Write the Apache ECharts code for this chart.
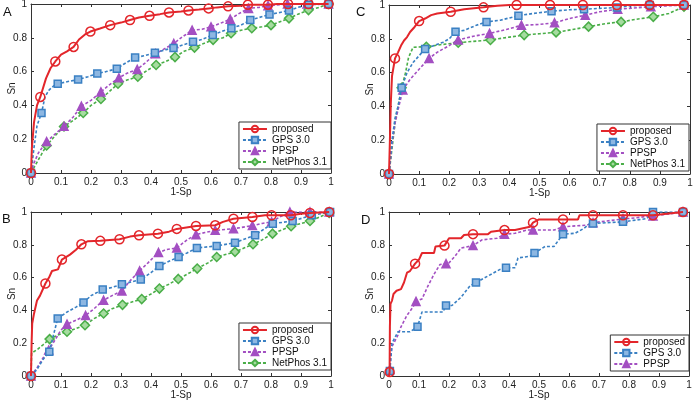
<!DOCTYPE html>
<html><head><meta charset="utf-8">
<script src="https://cdn.jsdelivr.net/npm/echarts@6/dist/echarts.min.js"></script>
<style>html,body{margin:0;padding:0;background:#fff}#c{width:693px;height:400px}</style>
</head><body><div id="c"></div>
<script>
// ---------- data ----------
const panelLabels = ['A', 'C', 'B', 'D'];
const seriesNames = ['proposed', 'GPS 3.0', 'PPSP', 'NetPhos 3.1'];
const xTicks = [0, 0.1, 0.2, 0.3, 0.4, 0.5, 0.6, 0.7, 0.8, 0.9, 1];
const yTicks = [0, 0.2, 0.4, 0.6, 0.8, 1];
const xName = '1-Sp';
const yName = 'Sn';

// Panel A
const A_proposed = [[0,0],[0.003,0.15],[0.01,0.3],[0.02,0.4],[0.031,0.45],[0.05,0.56],[0.065,0.62],[0.081,0.66],[0.1,0.7],[0.12,0.72],[0.142,0.746],[0.16,0.79],[0.18,0.82],[0.198,0.837],[0.23,0.855],[0.264,0.875],[0.3,0.89],[0.33,0.905],[0.36,0.92],[0.395,0.93],[0.43,0.94],[0.46,0.95],[0.5,0.955],[0.525,0.962],[0.56,0.967],[0.592,0.974],[0.62,0.98],[0.657,0.986],[0.7,0.99],[0.723,0.996],[0.79,0.996],[0.82,1],[0.992,1]];
const A_proposed_marks = [[0,0],[0.031,0.45],[0.081,0.66],[0.142,0.746],[0.198,0.837],[0.264,0.875],[0.33,0.905],[0.395,0.93],[0.46,0.95],[0.525,0.962],[0.592,0.974],[0.657,0.986],[0.723,0.996],[0.79,0.996],[0.857,1],[0.925,1],[0.992,1]];
const A_gps = [[0,0],[0.01,0.15],[0.02,0.28],[0.035,0.355],[0.047,0.453],[0.06,0.49],[0.075,0.515],[0.089,0.528],[0.12,0.54],[0.157,0.553],[0.19,0.57],[0.221,0.589],[0.25,0.6],[0.286,0.617],[0.31,0.645],[0.347,0.683],[0.38,0.695],[0.413,0.712],[0.45,0.73],[0.475,0.74],[0.51,0.76],[0.54,0.776],[0.57,0.79],[0.606,0.817],[0.64,0.84],[0.668,0.857],[0.7,0.875],[0.731,0.905],[0.76,0.92],[0.795,0.938],[0.83,0.95],[0.86,0.962],[0.89,0.98],[0.926,0.996],[0.992,1]];
const A_gps_marks = [[0,0],[0.035,0.355],[0.089,0.528],[0.157,0.553],[0.221,0.589],[0.286,0.617],[0.347,0.683],[0.413,0.712],[0.475,0.74],[0.54,0.776],[0.606,0.817],[0.668,0.857],[0.731,0.905],[0.795,0.938],[0.86,0.962],[0.926,0.996],[0.992,1]];
const A_ppsp = [[0,0],[0.01,0.06],[0.025,0.12],[0.052,0.186],[0.08,0.23],[0.11,0.276],[0.14,0.33],[0.168,0.395],[0.2,0.43],[0.233,0.48],[0.26,0.52],[0.293,0.563],[0.32,0.59],[0.354,0.613],[0.38,0.65],[0.415,0.706],[0.44,0.73],[0.476,0.766],[0.5,0.8],[0.537,0.845],[0.57,0.85],[0.6,0.865],[0.63,0.885],[0.664,0.91],[0.69,0.94],[0.725,0.974],[0.76,0.98],[0.79,0.99],[0.855,1],[0.992,1]];
const A_ppsp_marks = [[0,0],[0.052,0.186],[0.11,0.276],[0.168,0.395],[0.233,0.48],[0.293,0.563],[0.354,0.613],[0.415,0.706],[0.476,0.766],[0.537,0.845],[0.6,0.865],[0.664,0.91],[0.725,0.974],[0.79,0.99],[0.855,1],[0.92,1],[0.992,1]];
const A_netphos = [[0,0],[0.025,0.08],[0.052,0.163],[0.08,0.22],[0.11,0.275],[0.14,0.31],[0.174,0.355],[0.2,0.4],[0.233,0.438],[0.26,0.48],[0.29,0.528],[0.32,0.55],[0.356,0.57],[0.39,0.61],[0.417,0.639],[0.45,0.66],[0.48,0.686],[0.51,0.72],[0.545,0.742],[0.58,0.77],[0.607,0.788],[0.64,0.8],[0.667,0.827],[0.7,0.845],[0.736,0.857],[0.77,0.865],[0.8,0.875],[0.83,0.895],[0.86,0.915],[0.89,0.94],[0.925,0.964],[0.96,0.98],[0.992,1]];
const A_netphos_marks = [[0,0],[0.052,0.163],[0.11,0.275],[0.174,0.355],[0.233,0.438],[0.29,0.528],[0.356,0.57],[0.417,0.639],[0.48,0.686],[0.545,0.742],[0.607,0.788],[0.667,0.827],[0.736,0.857],[0.8,0.875],[0.86,0.915],[0.925,0.964],[0.992,1]];

// Panel C
const C_proposed = [[0,0],[0.003,0.2],[0.006,0.42],[0.01,0.58],[0.02,0.684],[0.03,0.72],[0.04,0.76],[0.05,0.79],[0.06,0.81],[0.07,0.84],[0.085,0.87],[0.1,0.905],[0.12,0.92],[0.14,0.94],[0.16,0.95],[0.205,0.96],[0.25,0.975],[0.314,0.986],[0.36,0.995],[0.4,1],[0.98,1]];
const C_proposed_marks = [[0,0],[0.02,0.684],[0.1,0.905],[0.205,0.96],[0.314,0.986],[0.424,1],[0.535,1],[0.644,1],[0.757,1],[0.866,1],[0.98,1]];
const C_gps = [[0,0],[0.01,0.2],[0.02,0.33],[0.03,0.4],[0.042,0.51],[0.06,0.6],[0.08,0.66],[0.1,0.7],[0.12,0.74],[0.15,0.76],[0.18,0.78],[0.2,0.8],[0.221,0.842],[0.25,0.85],[0.29,0.88],[0.324,0.9],[0.37,0.91],[0.43,0.937],[0.48,0.95],[0.54,0.963],[0.6,0.972],[0.648,0.975],[0.757,0.985],[0.8,0.995],[0.866,1],[0.98,1]];
const C_gps_marks = [[0,0],[0.042,0.51],[0.12,0.74],[0.221,0.842],[0.324,0.9],[0.43,0.937],[0.54,0.963],[0.648,0.975],[0.757,0.985],[0.866,1],[0.98,1]];
const C_ppsp = [[0,0],[0.01,0.18],[0.02,0.3],[0.03,0.38],[0.046,0.497],[0.07,0.56],[0.1,0.62],[0.133,0.684],[0.16,0.72],[0.2,0.76],[0.23,0.793],[0.28,0.815],[0.334,0.832],[0.39,0.855],[0.44,0.88],[0.5,0.885],[0.55,0.895],[0.6,0.92],[0.652,0.94],[0.7,0.96],[0.76,0.975],[0.87,0.99],[0.98,1]];
const C_ppsp_marks = [[0,0],[0.046,0.497],[0.133,0.684],[0.23,0.793],[0.334,0.832],[0.44,0.88],[0.55,0.895],[0.652,0.94],[0.76,0.975],[0.87,0.99],[0.98,1]];
const C_netphos = [[0,0],[0.01,0.15],[0.02,0.3],[0.03,0.4],[0.042,0.51],[0.055,0.6],[0.065,0.69],[0.08,0.75],[0.124,0.753],[0.17,0.765],[0.23,0.777],[0.28,0.785],[0.337,0.793],[0.4,0.81],[0.449,0.822],[0.5,0.83],[0.555,0.838],[0.61,0.855],[0.663,0.872],[0.72,0.89],[0.771,0.9],[0.82,0.915],[0.878,0.93],[0.93,0.95],[0.98,0.99]];
const C_netphos_marks = [[0,0],[0.042,0.51],[0.124,0.753],[0.23,0.777],[0.337,0.793],[0.449,0.822],[0.555,0.838],[0.663,0.872],[0.771,0.9],[0.878,0.93],[0.98,0.99]];

// Panel B
const B_proposed = [[0,0],[0.002,0.2],[0.004,0.32],[0.01,0.38],[0.02,0.46],[0.03,0.49],[0.048,0.564],[0.06,0.6],[0.07,0.64],[0.09,0.65],[0.103,0.71],[0.13,0.74],[0.15,0.77],[0.168,0.803],[0.19,0.822],[0.231,0.824],[0.295,0.834],[0.33,0.85],[0.36,0.858],[0.423,0.868],[0.46,0.88],[0.486,0.897],[0.55,0.915],[0.614,0.919],[0.64,0.94],[0.675,0.959],[0.738,0.97],[0.78,0.98],[0.866,0.98],[0.9,0.99],[0.994,1]];
const B_proposed_marks = [[0,0],[0.048,0.564],[0.103,0.71],[0.168,0.803],[0.231,0.824],[0.295,0.834],[0.36,0.858],[0.423,0.868],[0.486,0.897],[0.55,0.915],[0.614,0.919],[0.675,0.959],[0.738,0.97],[0.802,0.98],[0.866,0.98],[0.93,0.994],[0.994,1]];
const B_gps = [[0,0],[0.02,0.04],[0.04,0.1],[0.061,0.148],[0.075,0.25],[0.089,0.351],[0.12,0.39],[0.15,0.42],[0.175,0.448],[0.2,0.49],[0.239,0.527],[0.27,0.54],[0.303,0.56],[0.366,0.588],[0.4,0.63],[0.428,0.671],[0.46,0.7],[0.492,0.726],[0.52,0.75],[0.553,0.781],[0.619,0.793],[0.68,0.813],[0.72,0.84],[0.747,0.858],[0.78,0.9],[0.806,0.929],[0.872,0.945],[0.936,0.98],[0.997,1]];
const B_gps_marks = [[0,0],[0.061,0.148],[0.089,0.351],[0.175,0.448],[0.239,0.527],[0.303,0.56],[0.366,0.588],[0.428,0.671],[0.492,0.726],[0.553,0.781],[0.619,0.793],[0.68,0.813],[0.747,0.858],[0.806,0.929],[0.872,0.945],[0.936,0.98],[0.997,1]];
const B_ppsp = [[0,0],[0.02,0.05],[0.04,0.11],[0.059,0.158],[0.08,0.22],[0.1,0.28],[0.12,0.316],[0.15,0.34],[0.182,0.369],[0.21,0.41],[0.242,0.462],[0.27,0.49],[0.303,0.519],[0.33,0.58],[0.362,0.641],[0.39,0.69],[0.425,0.753],[0.45,0.77],[0.486,0.781],[0.52,0.83],[0.55,0.862],[0.58,0.875],[0.614,0.888],[0.675,0.898],[0.738,0.917],[0.77,0.93],[0.802,0.94],[0.83,0.97],[0.863,1],[0.994,1]];
const B_ppsp_marks = [[0,0],[0.059,0.158],[0.12,0.316],[0.182,0.369],[0.242,0.462],[0.303,0.519],[0.362,0.641],[0.425,0.753],[0.486,0.781],[0.55,0.862],[0.614,0.888],[0.675,0.898],[0.738,0.917],[0.802,0.94],[0.863,1],[0.93,1],[0.994,1]];
const B_netphos = [[0,0],[0.002,0.14],[0.02,0.16],[0.04,0.19],[0.062,0.225],[0.09,0.25],[0.12,0.27],[0.15,0.29],[0.18,0.31],[0.21,0.35],[0.242,0.381],[0.27,0.41],[0.305,0.434],[0.369,0.469],[0.4,0.5],[0.428,0.533],[0.46,0.56],[0.491,0.592],[0.52,0.62],[0.554,0.655],[0.59,0.69],[0.619,0.726],[0.68,0.757],[0.71,0.78],[0.74,0.803],[0.77,0.83],[0.805,0.868],[0.867,0.913],[0.93,0.945],[0.994,0.994]];
const B_netphos_marks = [[0,0],[0.062,0.225],[0.12,0.27],[0.18,0.31],[0.242,0.381],[0.305,0.434],[0.369,0.469],[0.428,0.533],[0.491,0.592],[0.554,0.655],[0.619,0.726],[0.68,0.757],[0.74,0.803],[0.805,0.868],[0.867,0.913],[0.93,0.945],[0.994,0.994]];

// Panel D
const D_proposed = [[0,0],[0.002,0.024],[0.003,0.3],[0.005,0.44],[0.01,0.46],[0.015,0.5],[0.025,0.52],[0.04,0.53],[0.05,0.57],[0.06,0.63],[0.07,0.64],[0.087,0.685],[0.1,0.71],[0.11,0.75],[0.15,0.75],[0.155,0.79],[0.185,0.795],[0.2,0.84],[0.24,0.84],[0.25,0.86],[0.33,0.865],[0.34,0.88],[0.385,0.89],[0.42,0.89],[0.47,0.91],[0.48,0.935],[0.5,0.955],[0.63,0.955],[0.635,0.98],[0.88,0.98],[0.98,1]];
const D_proposed_marks = [[0.002,0.024],[0.087,0.685],[0.185,0.795],[0.28,0.865],[0.385,0.89],[0.48,0.935],[0.58,0.955],[0.68,0.98],[0.78,0.98],[0.88,0.98],[0.98,1]];
const D_gps = [[0,0],[0.003,0.03],[0.01,0.2],[0.03,0.27],[0.07,0.27],[0.095,0.3],[0.1,0.31],[0.11,0.39],[0.18,0.39],[0.19,0.43],[0.21,0.43],[0.24,0.48],[0.27,0.55],[0.29,0.57],[0.33,0.61],[0.37,0.65],[0.39,0.66],[0.42,0.66],[0.43,0.72],[0.47,0.73],[0.485,0.75],[0.52,0.79],[0.55,0.79],[0.58,0.865],[0.62,0.87],[0.65,0.9],[0.67,0.93],[0.78,0.94],[0.86,0.96],[0.88,1],[0.98,1]];
const D_gps_marks = [[0.003,0.03],[0.095,0.3],[0.19,0.43],[0.29,0.57],[0.39,0.66],[0.485,0.75],[0.58,0.865],[0.68,0.93],[0.78,0.94],[0.88,1],[0.98,1]];
const D_ppsp = [[0,0],[0.003,0.04],[0.005,0.1],[0.01,0.18],[0.03,0.25],[0.04,0.3],[0.06,0.37],[0.08,0.42],[0.09,0.455],[0.11,0.47],[0.13,0.55],[0.15,0.62],[0.17,0.68],[0.19,0.685],[0.2,0.69],[0.22,0.73],[0.24,0.78],[0.28,0.795],[0.31,0.83],[0.36,0.84],[0.385,0.865],[0.42,0.87],[0.46,0.89],[0.55,0.89],[0.58,0.91],[0.66,0.92],[0.68,0.935],[0.77,0.955],[0.8,0.96],[0.87,0.975],[0.98,1]];
const D_ppsp_marks = [[0.003,0.04],[0.09,0.455],[0.19,0.685],[0.28,0.795],[0.385,0.865],[0.48,0.89],[0.58,0.91],[0.68,0.935],[0.78,0.96],[0.88,0.975],[0.98,1]];

// ---------- styling ----------
const FONT = 'Liberation Sans, Arial, sans-serif';
const styles = {
  'proposed':    {color:'#e3262b', symbol:'circle',   size:9, fill:'rgba(255,255,255,0)', width:2, type:'solid'},
  'GPS 3.0':     {color:'#3a80c3', symbol:'rect',     size:7, fill:'#8db7e2', width:1.6, type:[3,2]},
  'PPSP':        {color:'#a34fc2', symbol:'triangle', size:8, fill:'#a34fc2', width:1.6, type:[3,2]},
  'NetPhos 3.1': {color:'#4aae48', symbol:'diamond',  size:9, fill:'#a6dca0', width:1.6, type:[3,2]}
};
const grids = [
  {left:31, top:4,   width:300, height:169},
  {left:389, top:5,  width:301, height:169},
  {left:31, top:212, width:300, height:164},
  {left:389, top:212,width:300, height:164}
];
const panels = [
  [A_proposed, A_proposed_marks, A_gps, A_gps_marks, A_ppsp, A_ppsp_marks, A_netphos, A_netphos_marks],
  [C_proposed, C_proposed_marks, C_gps, C_gps_marks, C_ppsp, C_ppsp_marks, C_netphos, C_netphos_marks],
  [B_proposed, B_proposed_marks, B_gps, B_gps_marks, B_ppsp, B_ppsp_marks, B_netphos, B_netphos_marks],
  [D_proposed, D_proposed_marks, D_gps, D_gps_marks, D_ppsp, D_ppsp_marks]
];
const legendPos = [
  {right:362, top:122}, {right:4, top:124}, {right:362, top:323}, {right:4, top:335}
];
const labelPos = [[3,6],[356,6],[2,213],[361,214]];

function merge(line, marks) {
  const items = line.map(p => ({p, m:false}));
  marks.forEach(mk => {
    const hit = items.find(it => Math.abs(it.p[0]-mk[0])<1e-9 && Math.abs(it.p[1]-mk[1])<1e-9);
    if (hit) hit.m = true; else items.push({p:mk, m:true});
  });
  items.sort((a,b) => a.p[0]-b.p[0] || a.p[1]-b.p[1]);
  return items.map(it => it.m ? {value:it.p} : {value:it.p, symbol:'none'});
}

const xAxis = [], yAxis = [], series = [], legend = [], graphic = [];
const axisLineStyle = {color:'#333', width:1};
grids.forEach((g, i) => {
  g.containLabel = false; g.outerBoundsMode = 'none';
  xAxis.push({type:'value', gridIndex:i, min:0, max:1, interval:0.1, position:'bottom',
    axisLine:{show:true, onZero:false, lineStyle:axisLineStyle},
    axisTick:{show:true, inside:true, length:3, lineStyle:axisLineStyle},
    splitLine:{show:false},
    axisLabel:{color:'#222', fontSize:10, fontFamily:FONT, margin:4, formatter:v => String(+v.toFixed(1))},
    name:xName, nameLocation:'middle', nameGap:14, nameMoveOverlap:false,
    nameTextStyle:{color:'#222', fontSize:10, fontFamily:FONT}});
  yAxis.push({type:'value', gridIndex:i, min:0, max:1, interval:0.2, position:'left',
    axisLine:{show:true, onZero:false, lineStyle:axisLineStyle},
    axisTick:{show:true, inside:true, length:3, lineStyle:axisLineStyle},
    splitLine:{show:false},
    axisLabel:{color:'#222', fontSize:10, fontFamily:FONT, margin:4, formatter:v => String(+v.toFixed(1))},
    name:yName, nameLocation:'middle', nameGap:14, nameRotate:90, nameMoveOverlap:false,
    nameTextStyle:{color:'#222', fontSize:10, fontFamily:FONT}});
});
grids.forEach((g, i) => {
  xAxis.push({type:'value', gridIndex:i, min:0, max:1, interval:0.1, position:'top',
    axisLine:{show:true, onZero:false, lineStyle:axisLineStyle},
    axisTick:{show:true, inside:true, length:3, lineStyle:axisLineStyle},
    axisLabel:{show:false}, splitLine:{show:false}});
  yAxis.push({type:'value', gridIndex:i, min:0, max:1, interval:0.2, position:'right',
    axisLine:{show:true, onZero:false, lineStyle:axisLineStyle},
    axisTick:{show:true, inside:true, length:3, lineStyle:axisLineStyle},
    axisLabel:{show:false}, splitLine:{show:false}});
});

panels.forEach((arr, i) => {
  const names = [];
  for (let k = 0; k < arr.length; k += 2) {
    const name = seriesNames[k/2];
    names.push(name);
    const s = styles[name];
    series.push({
      type:'line', name, xAxisIndex:i, yAxisIndex:i,
      data: merge(arr[k], arr[k+1]),
      symbol:s.symbol, symbolSize:s.size, showAllSymbol:true,
      lineStyle:{color:s.color, width:s.width, type:s.type},
      itemStyle:{color:s.fill, borderColor:s.color, borderWidth:1.5},
      z: 10 - k/2,
      emphasis:{disabled:true}, silent:true
    });
  }
  legend.push(Object.assign({
    orient:'vertical', data:names,
    backgroundColor:'#fff', borderColor:'#333', borderWidth:1, borderRadius:0,
    padding:[2,4,2,3], itemGap:1, itemWidth:24, itemHeight:8,
    textStyle:{color:'#111', fontSize:10, lineHeight:10, fontFamily:FONT},
    selectedMode:false
  }, legendPos[i]));
  graphic.push({type:'text', left:labelPos[i][0], top:labelPos[i][1],
    style:{text:panelLabels[i], fill:'#111', font:'13px ' + FONT}});
});

const chart = echarts.init(document.getElementById('c'), null, {renderer:'canvas'});
chart.setOption({
  backgroundColor:'#fff', animation:false,
  grid:grids, xAxis, yAxis, series, legend, graphic
});
</script></body></html>
